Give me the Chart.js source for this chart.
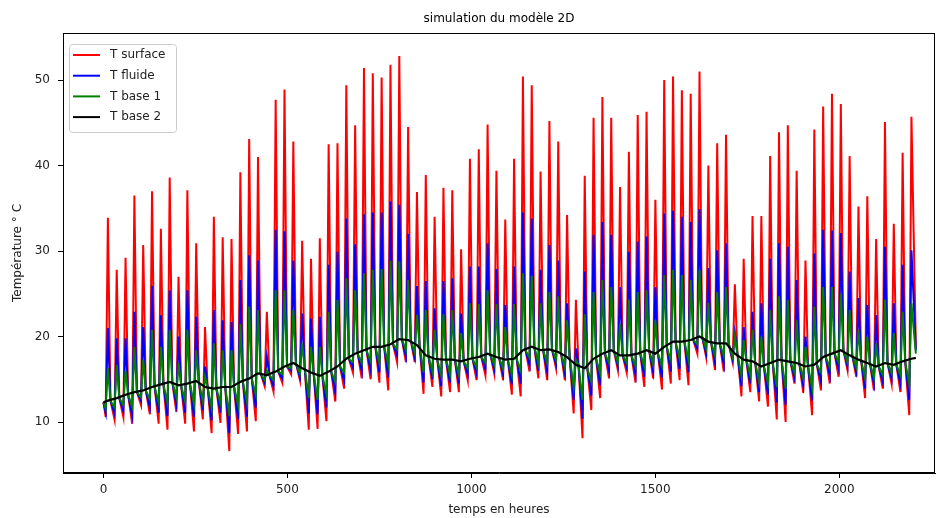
<!DOCTYPE html>
<html>
<head>
<meta charset="utf-8">
<script src="https://cdn.jsdelivr.net/npm/chart.js@4.4.0/dist/chart.umd.min.js"></script>
<style>
body { margin: 0; background: #fff; }
</style>
</head>
<body>
<canvas id="graphCanvas" width="947" height="518"></canvas>
<script>
// series names and axis ticks
var seriesLabels = ['T surface', 'T fluide', 'T base 1', 'T base 2'];
var seriesColors = ['#ff0000', '#0000ff', '#008000', '#000000'];
var xTicks = [0, 500, 1000, 1500, 2000];
var yTicks = [10, 20, 30, 40, 50];

// per day: morning minimum, midday maximum, evening value (where the curves
// come back down to the T base 2 level), 92 days
var lowHour = 6;
var peakHour = 12;
var eveningHour = 19;
var startValue = 12.3;
var endHour = 2208;
var endValues = [18.6, 18.4, 18.0, 17.5];

var surfacePeak = [33.9, 27.8, 29.2, 36.5, 30.7, 37.0, 32.6, 38.6, 27.0, 37.1, 30.9, 21.1, 34.0, 31.6, 31.4, 39.2,
    43.1, 41.0, 22.9, 47.7, 48.9, 42.8, 31.2, 29.1, 31.5, 42.5, 42.6, 49.4, 44.7, 51.4, 50.8, 50.3,
    51.8, 52.8, 44.5, 36.9, 38.9, 34.0, 37.4, 37.1, 30.2, 40.8, 41.9, 44.8, 39.4, 33.7, 40.8, 50.4,
    49.4, 39.3, 45.2, 42.8, 34.2, 24.3, 38.8, 45.6, 48.0, 45.6, 37.5, 41.6, 45.9, 46.3, 36.0, 50.0,
    50.4, 48.8, 48.4, 51.0, 40.0, 42.6, 43.6, 26.1, 29.1, 34.1, 34.1, 41.1, 43.9, 44.7, 39.4, 28.9,
    44.2, 46.9, 48.4, 47.2, 41.1, 35.2, 36.4, 31.4, 45.1, 33.2, 41.5, 45.7];
var surfaceLow = [10.6, 10.3, 10.6, 9.8, 12.0, 10.9, 9.8, 9.1, 11.2, 9.8, 8.9, 10.3, 8.7, 9.9, 6.6, 8.6,
    8.9, 10.1, 14.2, 13.6, 14.6, 15.6, 14.9, 9.1, 9.2, 10.1, 12.4, 13.9, 15.8, 15.1, 15.0, 14.6,
    13.7, 17.0, 17.0, 17.0, 13.3, 14.1, 13.0, 13.5, 13.5, 14.9, 14.9, 15.5, 15.7, 14.9, 13.2, 13.0,
    15.9, 15.1, 14.9, 16.3, 14.9, 11.0, 8.1, 11.4, 12.8, 15.1, 16.1, 15.8, 14.6, 14.1, 15.1, 13.8,
    14.5, 14.9, 14.3, 18.0, 17.6, 16.1, 15.9, 17.0, 13.0, 13.5, 12.4, 11.8, 10.3, 10.0, 14.5, 13.4,
    10.8, 13.7, 14.5, 15.3, 16.1, 15.3, 12.8, 13.7, 13.9, 14.5, 13.5, 10.8];

var fluidePeak = [21.0, 19.8, 19.8, 22.9, 21.1, 25.9, 22.5, 25.4, 20.0, 25.4, 22.3, 16.5, 23.1, 21.9, 21.7, 26.6,
    29.5, 28.9, 17.6, 32.5, 32.3, 28.9, 22.7, 22.1, 22.3, 28.4, 29.9, 33.8, 30.8, 34.3, 34.5, 34.5,
    35.8, 35.4, 32.0, 25.9, 26.5, 23.3, 26.5, 26.8, 22.7, 28.2, 28.2, 30.9, 27.9, 23.7, 28.2, 34.5,
    33.8, 27.8, 30.7, 28.9, 23.9, 18.6, 27.6, 31.9, 33.4, 31.9, 25.8, 29.9, 31.1, 31.7, 25.8, 34.4,
    34.7, 34.0, 33.4, 34.9, 28.0, 30.1, 30.9, 20.4, 21.1, 22.9, 23.9, 29.1, 30.9, 30.5, 26.6, 20.0,
    29.7, 32.5, 32.4, 32.1, 27.6, 24.5, 23.7, 22.5, 30.5, 23.9, 28.4, 30.1];
var fluideLow = [11.1, 11.0, 11.3, 10.8, 12.5, 11.8, 11.1, 10.7, 12.1, 11.1, 10.6, 11.4, 10.2, 11.1, 8.7, 10.3,
    10.6, 11.7, 14.6, 14.2, 15.1, 16.0, 15.3, 11.0, 10.9, 11.7, 13.5, 14.9, 16.4, 16.0, 16.1, 15.8,
    15.2, 17.8, 17.7, 17.6, 14.6, 15.0, 14.2, 14.6, 14.5, 15.6, 15.7, 16.2, 16.2, 15.6, 14.4, 14.5,
    16.7, 16.0, 15.9, 16.8, 15.7, 12.6, 10.4, 13.1, 14.3, 16.0, 16.6, 16.4, 15.6, 15.3, 15.9, 15.2,
    15.9, 16.2, 15.8, 18.6, 18.1, 17.0, 16.8, 17.3, 14.2, 14.5, 13.5, 13.2, 12.3, 12.0, 15.2, 14.3,
    12.5, 14.8, 15.5, 16.2, 16.6, 15.9, 13.9, 14.5, 14.7, 15.1, 14.5, 12.6];

var base1Peak = [16.3, 16.7, 16.0, 18.8, 17.3, 20.8, 18.8, 20.8, 16.9, 20.8, 18.4, 15.3, 19.2, 18.4, 18.4, 21.5,
    23.5, 23.1, 16.0, 25.4, 25.4, 23.1, 19.2, 18.8, 18.8, 22.9, 24.3, 26.8, 25.4, 27.4, 27.8, 27.9,
    28.9, 28.8, 26.6, 22.5, 23.1, 20.8, 22.6, 23.1, 20.4, 23.9, 23.8, 25.4, 23.8, 21.1, 23.8, 27.4,
    27.1, 23.9, 25.2, 24.7, 21.9, 17.3, 22.6, 25.2, 26.6, 25.8, 21.5, 24.3, 25.2, 25.4, 21.9, 27.2,
    27.8, 27.2, 26.6, 27.8, 23.9, 25.2, 25.8, 20.0, 19.6, 20.8, 20.0, 23.1, 24.7, 24.3, 21.9, 18.8,
    23.5, 25.8, 25.8, 25.0, 23.1, 20.8, 20.0, 19.2, 24.3, 20.4, 22.9, 23.9];
var base1Low = [11.6, 11.7, 12.0, 11.8, 12.9, 12.7, 12.3, 12.2, 12.9, 12.4, 12.1, 12.4, 11.6, 12.2, 10.7, 12.0,
    12.3, 13.2, 14.9, 14.9, 15.6, 16.3, 15.7, 12.8, 12.6, 13.3, 14.7, 15.8, 17.0, 16.9, 17.1, 16.9,
    16.7, 18.5, 18.4, 18.1, 15.8, 15.9, 15.4, 15.6, 15.5, 16.3, 16.4, 16.9, 16.7, 16.2, 15.5, 16.0,
    17.5, 16.9, 16.9, 17.3, 16.4, 14.1, 12.6, 14.7, 15.7, 16.9, 17.0, 16.9, 16.5, 16.5, 16.7, 16.6,
    17.2, 17.4, 17.2, 19.1, 18.6, 17.8, 17.7, 17.6, 15.4, 15.5, 14.7, 14.6, 14.1, 13.9, 15.8, 15.1,
    14.0, 15.8, 16.4, 17.0, 17.0, 16.4, 15.1, 15.2, 15.5, 15.7, 15.5, 14.4];

var base2Day = [12.5, 12.8, 13.2, 13.5, 13.7, 14.1, 14.4, 14.7, 14.3, 14.5, 14.8, 14.1, 13.9, 14.1, 14.1, 14.7,
    15.1, 15.7, 15.5, 15.9, 16.5, 16.9, 16.3, 15.8, 15.4, 15.9, 16.5, 17.4, 18.0, 18.4, 18.8, 18.8,
    19.1, 19.7, 19.6, 19.0, 17.8, 17.4, 17.3, 17.3, 17.1, 17.4, 17.6, 18.0, 17.6, 17.3, 17.4, 18.4,
    18.8, 18.4, 18.5, 18.2, 17.6, 16.7, 16.3, 17.4, 18.0, 18.4, 17.8, 17.8, 18.0, 18.4, 18.0, 18.8,
    19.4, 19.4, 19.6, 20.0, 19.4, 19.2, 19.2, 18.0, 17.3, 17.1, 16.5, 16.9, 17.3, 17.1, 16.9, 16.5,
    16.7, 17.6, 18.0, 18.4, 17.8, 17.3, 16.9, 16.5, 16.9, 16.7, 17.1, 17.4];

var font = 'DejaVu Sans';

function dailySeries(peaks, lows, evenings, endValue) {
    var pts = [{x: 0, y: startValue}];
    for (var d = 0; d < peaks.length; d++) {
        pts.push({x: 24 * d + lowHour, y: lows[d]});
        pts.push({x: 24 * d + peakHour, y: peaks[d]});
        if (d < peaks.length - 1) pts.push({x: 24 * d + eveningHour, y: evenings[d]});
    }
    pts.push({x: endHour, y: endValue});
    return pts;
}

function smoothSeries(values, endValue) {
    var pts = [{x: 0, y: startValue}];
    for (var d = 0; d < values.length; d++) {
        pts.push({x: 24 * d + peakHour, y: values[d]});
    }
    pts.push({x: endHour, y: endValue});
    return pts;
}

var seriesData = [
    dailySeries(surfacePeak, surfaceLow, base2Day, endValues[0]),
    dailySeries(fluidePeak, fluideLow, base2Day, endValues[1]),
    dailySeries(base1Peak, base1Low, base2Day, endValues[2]),
    smoothSeries(base2Day, endValues[3])
];

var datasets = [];
for (var i = 0; i < seriesLabels.length; i++) {
    datasets.push({
        label: seriesLabels[i],
        data: seriesData[i],
        borderColor: seriesColors[i],
        backgroundColor: seriesColors[i],
        borderWidth: i == 3 ? 2.2 : 2,
        pointRadius: 0,
        tension: 0,
        fill: false,
        order: seriesLabels.length - i
    });
}

// frame on four sides + legend box in the upper left corner
var frameAndLegend = {
    id: 'frameAndLegend',
    afterDraw: function (chart) {
        var ctx = chart.ctx;
        var a = chart.chartArea;
        ctx.save();
        ctx.strokeStyle = '#000';
        ctx.lineWidth = 1;
        ctx.strokeRect(Math.round(a.left) + 0.5, Math.round(a.top) + 0.5,
            Math.round(a.right - a.left) - 1, Math.round(a.bottom - a.top) - 1);

        var bx = a.left + 6, by = a.top + 11, bw = 107, bh = 88;
        ctx.beginPath();
        ctx.roundRect(bx + 0.5, by + 0.5, bw, bh, 3);
        ctx.fillStyle = 'rgba(255,255,255,0.8)';
        ctx.fill();
        ctx.strokeStyle = '#cccccc';
        ctx.stroke();

        ctx.font = '12px "' + font + '"';
        ctx.textBaseline = 'middle';
        ctx.textAlign = 'left';
        for (var i = 0; i < seriesLabels.length; i++) {
            var ry = by + 11 + i * 20.7;
            ctx.beginPath();
            ctx.moveTo(bx + 4, ry);
            ctx.lineTo(bx + 31, ry);
            ctx.strokeStyle = seriesColors[i];
            ctx.lineWidth = 2;
            ctx.stroke();
            ctx.fillStyle = '#222';
            ctx.fillText(seriesLabels[i], bx + 41, ry);
        }
        ctx.restore();
    }
};

var graphTarget = document.getElementById('graphCanvas');
var lineGraph = new Chart(graphTarget, {
    type: 'line',
    data: {datasets: datasets},
    plugins: [frameAndLegend],
    options: {
        responsive: false,
        animation: false,
        layout: {padding: {left: 0, right: 12, top: 0, bottom: 0}},
        plugins: {
            legend: {display: false},
            tooltip: {enabled: false},
            title: {
                display: true,
                text: 'simulation du modèle 2D',
                fullSize: false,
                color: '#000',
                font: {family: font, size: 12, weight: 'normal'},
                padding: {top: 12, bottom: 6.6}
            }
        },
        scales: {
            x: {
                type: 'linear',
                min: -110,
                max: 2260,
                afterBuildTicks: function (scale) {
                    scale.ticks = xTicks.map(function (v) { return {value: v}; });
                },
                afterFit: function (scale) { scale.height = 45; },
                ticks: {
                    color: '#222',
                    padding: 5,
                    maxRotation: 0,
                    font: {family: font, size: 12},
                    callback: function (v) { return String(v); }
                },
                grid: {drawOnChartArea: false, drawTicks: true, tickLength: 5, color: '#000'},
                border: {display: true, color: '#000'},
                title: {
                    display: true,
                    text: 'temps en heures',
                    color: '#222',
                    font: {family: font, size: 12},
                    padding: {top: 0, bottom: 1}
                }
            },
            y: {
                type: 'linear',
                min: 4.04,
                max: 55.5,
                afterBuildTicks: function (scale) {
                    scale.ticks = yTicks.map(function (v) { return {value: v}; });
                },
                afterFit: function (scale) { scale.width = 63; },
                ticks: {
                    color: '#222',
                    padding: 8,
                    font: {family: font, size: 12},
                    callback: function (v) { return String(v); }
                },
                grid: {drawOnChartArea: false, drawTicks: true, tickLength: 5, color: '#000'},
                border: {display: true, color: '#000'},
                title: {
                    display: true,
                    text: 'Température ° C',
                    color: '#222',
                    font: {family: font, size: 12},
                    padding: {top: 11, bottom: 0}
                }
            }
        }
    }
});
</script>
</body>
</html>
